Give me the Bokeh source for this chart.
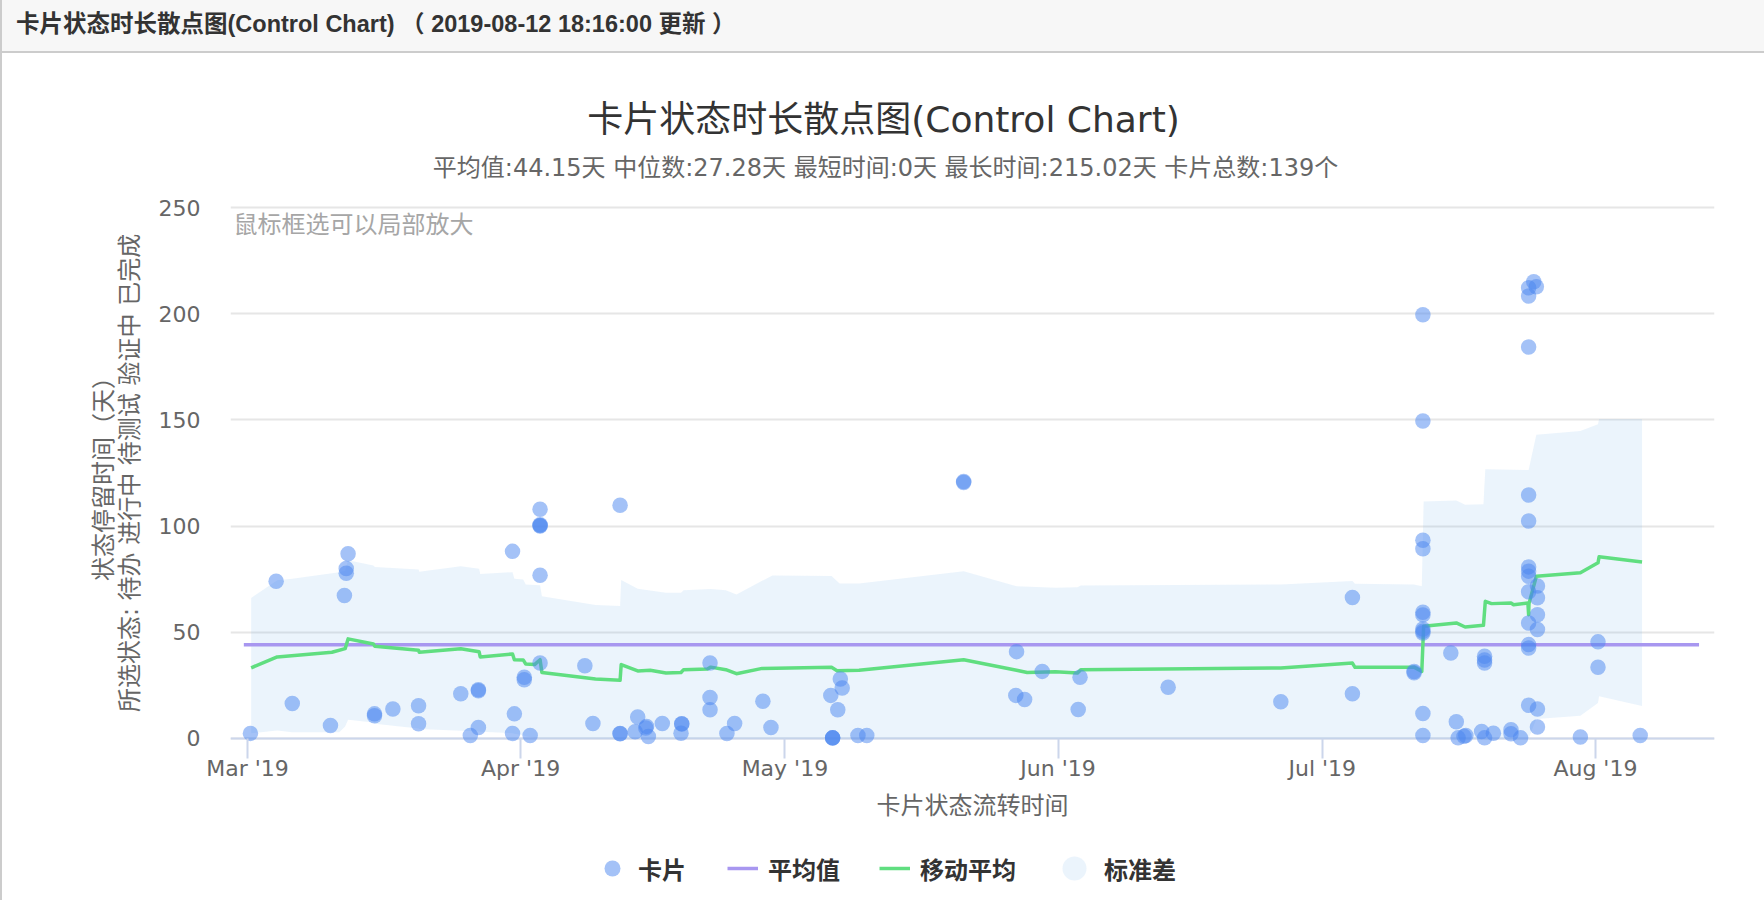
import math
import pandas as pd
from bokeh.plotting import figure
from bokeh.models import (Range1d, Label, Legend, LegendItem, FixedTicker, MonthsTicker,
                          DatetimeTickFormatter, ColumnDataSource, Span, Title, Div)
from bokeh.layouts import column
from bokeh.embed import file_html
from bokeh.resources import INLINE

# ---------------- data ----------------
header_text = "卡片状态时长散点图(Control Chart) （ 2019-08-12 18:16:00 更新 ）"
title_text = "卡片状态时长散点图(Control Chart)"
subtitle_text = "平均值:44.15天 中位数:27.28天 最短时间:0天 最长时间:215.02天 卡片总数:139个"
hint_text = "鼠标框选可以局部放大"
x_title = "卡片状态流转时间"
y_title_1 = "状态停留时间（天）"
y_title_2 = "所选状态: 待办 进行中 待测试 验证中 已完成"
legend_labels = ["卡片", "平均值", "移动平均", "标准差"]
y_ticks = [0, 50, 100, 150, 200, 250]

card_times = [
    "2019-03-01 08:00", "2019-03-04 06:00", "2019-03-06 02:00", "2019-03-10 10:00",
    "2019-03-12 10:00", "2019-03-12 05:00", "2019-03-12 05:00", "2019-03-12 00:00",
    "2019-03-15 10:00", "2019-03-15 10:00", "2019-03-17 12:00", "2019-03-20 10:00",
    "2019-03-20 10:00", "2019-03-25 05:00", "2019-03-27 05:00", "2019-03-27 05:00",
    "2019-03-27 05:00", "2019-03-26 07:00", "2019-03-31 02:00", "2019-03-31 07:00",
    "2019-03-31 02:00", "2019-04-01 10:00", "2019-04-01 10:00", "2019-04-02 02:00",
    "2019-04-03 05:00", "2019-04-03 05:00", "2019-04-03 05:00", "2019-04-03 05:00",
    "2019-04-03 05:00", "2019-04-03 05:00", "2019-04-08 07:00", "2019-04-09 05:00",
    "2019-04-12 07:00", "2019-04-12 07:00", "2019-04-12 07:00", "2019-04-14 07:00",
    "2019-04-14 00:00", "2019-04-15 07:00", "2019-04-15 05:00", "2019-04-15 12:00",
    "2019-04-17 02:00", "2019-04-19 07:00", "2019-04-19 07:00", "2019-04-19 05:00",
    "2019-04-22 12:00", "2019-04-22 12:00", "2019-04-22 12:00", "2019-04-24 10:00",
    "2019-04-25 07:00", "2019-04-28 12:00", "2019-04-29 10:00", "2019-05-06 05:00",
    "2019-05-07 07:00", "2019-05-07 12:00", "2019-05-07 00:00", "2019-05-06 10:00",
    "2019-05-06 10:00", "2019-05-06 10:00", "2019-05-09 07:00", "2019-05-10 07:00",
    "2019-05-21 07:00", "2019-05-21 07:00", "2019-05-27 07:00", "2019-05-27 05:00",
    "2019-05-28 05:00", "2019-05-30 05:00", "2019-06-03 12:00", "2019-06-03 07:00",
    "2019-06-13 12:00", "2019-06-26 07:00", "2019-07-04 10:00", "2019-07-04 10:00",
    "2019-07-11 10:00", "2019-07-11 10:00", "2019-07-12 10:00", "2019-07-12 10:00",
    "2019-07-12 10:00", "2019-07-12 10:00", "2019-07-12 10:00", "2019-07-12 10:00",
    "2019-07-12 10:00", "2019-07-12 10:00", "2019-07-12 10:00", "2019-07-12 10:00",
    "2019-07-12 10:00", "2019-07-15 14:00", "2019-07-16 05:00", "2019-07-16 10:00",
    "2019-07-17 07:00", "2019-07-17 02:00", "2019-07-19 10:00", "2019-07-19 10:00",
    "2019-07-19 10:00", "2019-07-19 02:00", "2019-07-19 10:00", "2019-07-20 10:00",
    "2019-07-22 10:00", "2019-07-22 10:00", "2019-07-23 12:00", "2019-07-24 10:00",
    "2019-07-24 10:00", "2019-07-24 10:00", "2019-07-24 10:00", "2019-07-24 10:00",
    "2019-07-24 10:00", "2019-07-24 10:00", "2019-07-24 10:00", "2019-07-24 10:00",
    "2019-07-24 10:00", "2019-07-24 10:00", "2019-07-24 10:00", "2019-07-24 10:00",
    "2019-07-25 00:00", "2019-07-25 07:00", "2019-07-25 10:00", "2019-07-25 10:00",
    "2019-07-25 10:00", "2019-07-25 10:00", "2019-07-25 10:00", "2019-07-25 10:00",
    "2019-07-30 07:00", "2019-08-01 07:00", "2019-08-01 07:00", "2019-08-06 02:00",
]
card_days = [
    2.4, 74.0, 16.5, 6.1,
    87.0, 80.0, 77.8, 67.3,
    11.6, 10.7, 13.9, 15.4,
    6.9, 21.1, 23.0, 22.5,
    5.2, 1.4, 88.1, 11.6,
    2.4, 28.8, 27.7, 1.4,
    107.9, 100.6, 100.3, 100.0,
    76.9, 35.5, 34.3, 7.1,
    109.8, 2.4, 2.2, 10.1,
    3.2, 5.7, 4.9, 0.9,
    7.1, 7.0, 6.8, 2.5,
    35.5, 19.3, 13.5, 2.4,
    7.1, 17.5, 5.2, 20.3,
    28.0, 23.8, 13.5, 0.4,
    0.3, 0.2, 1.4, 1.4,
    121.0, 120.5, 40.9, 20.3,
    18.4, 31.6, 28.8, 13.7,
    24.1, 17.3, 66.4, 21.1,
    31.5, 31.0, 199.5, 149.5,
    93.3, 89.3, 59.4, 58.2,
    51.6, 50.5, 49.7, 11.8,
    1.4, 40.3, 7.9, 0.3,
    1.4, 1.0, 38.7, 37.0,
    35.5, 3.3, 0.3, 2.5,
    4.1, 2.2, 0.3, 114.6,
    102.4, 80.8, 78.8, 76.4,
    69.1, 54.4, 44.2, 42.6,
    15.7, 208.3, 212.2, 184.3,
    215.02, 212.7, 71.8, 66.3,
    58.3, 51.3, 13.9, 5.4,
    0.7, 45.5, 33.5, 1.4,
]

mean_value = 44.15
mean_times = ["2019-02-28 14:00", "2019-08-12 18:16"]

ma_times = [
    "2019-03-01 10:00", "2019-03-04 09:00", "2019-03-10 14:00", "2019-03-12 02:00",
    "2019-03-12 10:00", "2019-03-15 07:00", "2019-03-15 11:00", "2019-03-20 10:00",
    "2019-03-20 12:00", "2019-03-25 05:00", "2019-03-27 07:00", "2019-03-27 10:00",
    "2019-03-31 02:00", "2019-03-31 07:00", "2019-04-01 07:00", "2019-04-01 14:00",
    "2019-04-02 14:00", "2019-04-03 05:00", "2019-04-03 10:00", "2019-04-09 12:00",
    "2019-04-12 07:00", "2019-04-12 10:00", "2019-04-14 07:00", "2019-04-15 17:00",
    "2019-04-17 12:00", "2019-04-19 05:00", "2019-04-19 12:00", "2019-04-22 05:00",
    "2019-04-22 14:00", "2019-04-24 07:00", "2019-04-25 12:00", "2019-04-28 10:00",
    "2019-05-06 07:00", "2019-05-06 22:00", "2019-05-09 10:00", "2019-05-21 07:00",
    "2019-05-27 07:00", "2019-05-28 12:00", "2019-05-31 17:00", "2019-06-03 05:00",
    "2019-06-03 14:00", "2019-06-26 07:00", "2019-07-04 10:00", "2019-07-04 17:00",
    "2019-07-11 10:00", "2019-07-12 07:00", "2019-07-12 12:00", "2019-07-16 05:00",
    "2019-07-17 05:00", "2019-07-19 07:00", "2019-07-19 12:00", "2019-07-20 05:00",
    "2019-07-22 10:00", "2019-07-22 17:00", "2019-07-24 08:00", "2019-07-24 10:00",
    "2019-07-24 11:00", "2019-07-25 07:00", "2019-07-30 07:00", "2019-08-01 07:00",
    "2019-08-01 10:00", "2019-08-06 07:00",
]
ma_values = [
    33.3, 38.4, 40.6, 42.3,
    46.9, 44.5, 43.4, 41.5,
    40.6, 42.3, 40.8, 38.4,
    39.8, 37.1, 37.0, 35.1,
    34.8, 37.1, 31.1, 28.0,
    27.4, 34.8, 31.8, 32.1,
    30.8, 31.1, 32.4, 32.7,
    33.6, 32.4, 30.5, 33.0,
    33.5, 31.9, 32.1, 37.1,
    32.1, 31.1, 31.4, 30.8,
    32.4, 33.2, 35.5, 33.5,
    33.6, 31.6, 52.8, 54.4,
    52.5, 53.3, 64.6, 63.5,
    63.8, 63.0, 63.8, 58.3,
    63.5, 76.4, 78.0, 82.7,
    85.6, 83.1,
]

band_times = [
    "2019-03-01 10:00", "2019-03-04 09:00", "2019-03-06 02:00", "2019-03-11 10:00",
    "2019-03-12 02:00", "2019-03-12 10:00", "2019-03-15 07:00", "2019-03-15 11:00",
    "2019-03-20 10:00", "2019-03-20 12:00", "2019-03-25 05:00", "2019-03-27 07:00",
    "2019-03-27 10:00", "2019-03-31 02:00", "2019-03-31 07:00", "2019-04-01 07:00",
    "2019-04-01 14:00", "2019-04-03 05:00", "2019-04-03 10:00", "2019-04-09 12:00",
    "2019-04-12 07:00", "2019-04-12 10:00", "2019-04-14 07:00", "2019-04-17 12:00",
    "2019-04-19 05:00", "2019-04-19 12:00", "2019-04-22 14:00", "2019-04-24 07:00",
    "2019-04-25 12:00", "2019-04-29 14:00", "2019-05-06 07:00", "2019-05-07 05:00",
    "2019-05-09 10:00", "2019-05-21 07:00", "2019-05-27 07:00", "2019-05-31 17:00",
    "2019-06-03 05:00", "2019-06-03 14:00", "2019-06-26 07:00", "2019-07-04 10:00",
    "2019-07-04 17:00", "2019-07-11 10:00", "2019-07-12 07:00", "2019-07-12 12:00",
    "2019-07-16 05:00", "2019-07-17 05:00", "2019-07-19 07:00", "2019-07-19 12:00",
    "2019-07-24 10:00", "2019-07-25 07:00", "2019-07-30 07:00", "2019-08-01 07:00",
    "2019-08-01 10:00", "2019-08-06 07:00",
]
band_lower = [
    2.5, 3.8, 3.0, 3.0,
    5.7, 8.8, 7.5, 7.0,
    4.7, 4.5, 3.7, 3.3,
    3.2, 2.5, 2.2, 1.5,
    1.0, 0.0, 0.0, 0.0,
    0.0, 0.0, 0.0, 0.0,
    0.0, 0.0, 0.0, 0.0,
    0.0, 0.0, 0.0, 0.0,
    0.0, 0.0, 0.0, 0.0,
    0.0, 0.0, 0.0, 0.0,
    0.0, 0.0, 0.0, 0.0,
    0.0, 0.0, 0.0, 0.0,
    0.0, 9.2, 10.7, 16.7,
    19.9, 15.3,
]
band_upper = [
    66.2, 74.5, 75.2, 78.3,
    79.0, 83.9, 81.4, 80.8,
    79.6, 78.5, 81.1, 79.9,
    77.5, 78.3, 75.2, 74.9,
    72.5, 72.1, 67.0, 62.8,
    62.4, 74.6, 70.5, 68.6,
    68.6, 69.8, 70.4, 69.8,
    67.8, 76.8, 76.5, 73.0,
    73.0, 78.8, 71.7, 71.0,
    71.2, 72.0, 72.5, 74.1,
    72.8, 72.5, 71.7, 111.6,
    112.0, 110.1, 110.3, 126.8,
    126.4, 143.0, 144.8, 148.0,
    150.4, 150.4,
]

# ---------------- styling / layout ----------------
FONT = "DejaVu Sans, Noto Sans CJK SC"
CJK = "Noto Sans CJK SC"
W = 1762
FL, FW = 228, 1484
FR = W - FL - FW
HDR_H = 53
TITLE_H = 137
MAIN_H = 595
LEG_H = 900 - HDR_H - TITLE_H - MAIN_H
PX_PER_UNIT = 2.124
PAD_UNITS = 5.18                      # plot area padding below 0 and above 250
FH = int(round((250 + 2 * PAD_UNITS) * PX_PER_UNIT))
FT = 207 - int(round(PAD_UNITS * PX_PER_UNIT)) - (HDR_H + TITLE_H)
PX_PER_DAY = 8.81

COLOR_CARD = "#4a86f0"
COLOR_MEAN = "#a897f0"
COLOR_MA = "#60de80"
COLOR_STD = "#7cb5ec"

# header bar (HTML)
header = Div(
    text=('<div style="box-sizing:border-box;width:%dpx;height:%dpx;'
          'border-bottom:2px solid #cccccc;background:#f7f7f7;padding-left:14px;'
          'color:#333333;white-space:nowrap;font-weight:bold;font-size:23.5px;'
          "font-family:'Liberation Sans','Noto Sans CJK SC',sans-serif;"
          'line-height:48px;">' % (W, HDR_H)) + header_text + "</div>",
    width=W, height=HDR_H, margin=0)


def strip(height):
    f = figure(width=W, height=height, title=None, x_range=Range1d(0, 1), y_range=Range1d(0, 1),
               x_axis_location=None, y_axis_location=None,
               min_border_left=FL, min_border_right=FR, min_border_top=0, min_border_bottom=0,
               background_fill_color="white", border_fill_color="white",
               outline_line_color=None, toolbar_location=None, output_backend="svg")
    f.grid.visible = False
    return f


def add_text(fig, text, x, y, size, color, align="center", angle=0.0):
    fig.add_layout(Label(x=x, y=y, x_units="screen", y_units="screen", text=text,
                         text_font=FONT, text_font_size=size, text_color=color,
                         text_align=align, text_baseline="middle", angle=angle))


# title strip
top = strip(TITLE_H)
add_text(top, title_text, 653, TITLE_H - (119 - HDR_H), "36px", "#333333")
add_text(top, subtitle_text, 655, TITLE_H - (167.6 - HDR_H), "24px", "#666666")

# main chart
t0 = pd.Timestamp("2019-03-01") - pd.Timedelta(days=17 / PX_PER_DAY)
t1 = t0 + pd.Timedelta(days=FW / PX_PER_DAY)

p = figure(x_axis_type="datetime", title=None, frame_width=FW, frame_height=FH,
           min_border_left=FL, min_border_right=FR,
           min_border_top=FT, min_border_bottom=MAIN_H - FT - FH,
           x_range=Range1d(t0, t1), y_range=Range1d(-PAD_UNITS, 250 + PAD_UNITS),
           background_fill_color="white", border_fill_color="white",
           outline_line_color=None, toolbar_location=None, output_backend="svg")

p.xgrid.visible = False
p.ygrid.ticker = FixedTicker(ticks=y_ticks)
p.ygrid.grid_line_color = "#e6e6e6"
p.ygrid.grid_line_width = 2

p.yaxis.ticker = FixedTicker(ticks=y_ticks)
p.yaxis.axis_line_color = None
p.yaxis.major_tick_line_color = None
p.yaxis.major_tick_out = 0
p.yaxis.major_tick_in = 0
p.yaxis.minor_tick_line_color = None
p.yaxis.major_label_standoff = 30
p.yaxis.major_label_text_font = FONT
p.yaxis.major_label_text_font_size = "22px"
p.yaxis.major_label_text_color = "#666666"
p.yaxis.axis_label = y_title_2
p.yaxis.axis_label_standoff = 12
p.yaxis.axis_label_text_font = FONT
p.yaxis.axis_label_text_font_size = "24px"
p.yaxis.axis_label_text_font_style = "normal"
p.yaxis.axis_label_text_color = "#666666"

p.add_layout(Title(text=y_title_1, align="center", vertical_align="bottom", standoff=-10,
                   text_font=FONT, text_font_size="24px", text_font_style="normal",
                   text_color="#666666"), "left")

fmt = "%b '%y"
p.xaxis.ticker = MonthsTicker(months=list(range(1, 13)))
p.xaxis.formatter = DatetimeTickFormatter(months=fmt, days=fmt, years=fmt, hours=fmt)
p.xaxis.axis_line_color = None
p.xaxis.major_tick_line_color = "#ccd6eb"
p.xaxis.major_tick_line_width = 2
p.xaxis.major_tick_in = 11
p.xaxis.major_tick_out = 9
p.xaxis.minor_tick_line_color = None
p.xaxis.major_label_standoff = -3
p.xaxis.major_label_text_font = FONT
p.xaxis.major_label_text_font_size = "22px"
p.xaxis.major_label_text_color = "#666666"

p.add_layout(Span(location=0, dimension="width", line_color="#ccd6eb", line_width=2,
                  level="underlay"))

band_src = ColumnDataSource(dict(t=pd.to_datetime(band_times), lo=band_lower, hi=band_upper))
p.varea(x="t", y1="lo", y2="hi", source=band_src, fill_color=COLOR_STD, fill_alpha=0.15)

mean_src = ColumnDataSource(dict(t=pd.to_datetime(mean_times), v=[mean_value] * len(mean_times)))
p.line(x="t", y="v", source=mean_src, line_color=COLOR_MEAN, line_width=3.5)

ma_src = ColumnDataSource(dict(t=pd.to_datetime(ma_times), v=ma_values))
p.line(x="t", y="v", source=ma_src, line_color=COLOR_MA, line_width=3.5, line_join="round")

card_src = ColumnDataSource(dict(t=pd.to_datetime(card_times), v=card_days))
p.scatter(x="t", y="v", source=card_src, size=15.5, fill_color=COLOR_CARD,
          fill_alpha=0.5, line_color=None)

frame_top_abs = HDR_H + TITLE_H + FT
add_text(p, hint_text, 3, FH - (224 - frame_top_abs), "24px", "#a6a6a6", align="left")

# bottom strip: x-axis title + legend
bot = strip(LEG_H)
y_base = HDR_H + TITLE_H + MAIN_H
add_text(bot, x_title, 742, LEG_H - (805 - y_base), "24px", "#666666")

# legend keys: placed outside the strip's visible range, only their legend glyphs show
k_card = bot.scatter(x=[5], y=[5], size=16, fill_color=COLOR_CARD, fill_alpha=0.5,
                     line_color=None)
k_mean = bot.line(x=[5, 6], y=[5, 5], line_color=COLOR_MEAN, line_width=3.5)
k_ma = bot.line(x=[5, 6], y=[5, 5], line_color=COLOR_MA, line_width=3.5)
k_std = bot.scatter(x=[5], y=[5], size=24, fill_color=COLOR_STD, fill_alpha=0.15,
                    line_color=None)

LEG_CY = LEG_H - (868 - y_base)


def make_legend(items, left, gw, gh, standoff, spacing=0):
    lg = Legend(items=items, location=(left - (FL + 2), LEG_CY - gh / 2), orientation="horizontal",
                glyph_width=gw, glyph_height=gh, label_standoff=standoff, spacing=spacing,
                padding=0, margin=0, border_line_color=None, background_fill_alpha=0,
                label_text_font=CJK, label_text_font_size="24px",
                label_text_font_style="bold", label_text_color="#333333", label_height=28)
    bot.add_layout(lg, "center")


make_legend([LegendItem(label=legend_labels[0], renderers=[k_card])], 592, 40, 40, 6)
make_legend([LegendItem(label=legend_labels[1], renderers=[k_mean]),
             LegendItem(label=legend_labels[2], renderers=[k_ma])], 727, 31, 36, 10, 39)
make_legend([LegendItem(label=legend_labels[3], renderers=[k_std])], 1044, 60, 60, 0)

layout = column(header, top, p, bot, spacing=0, styles={"border-left": "2px solid #cccccc"})

with open("out.html", "w") as f:
    f.write(file_html(layout, INLINE, title="Control Chart"))
